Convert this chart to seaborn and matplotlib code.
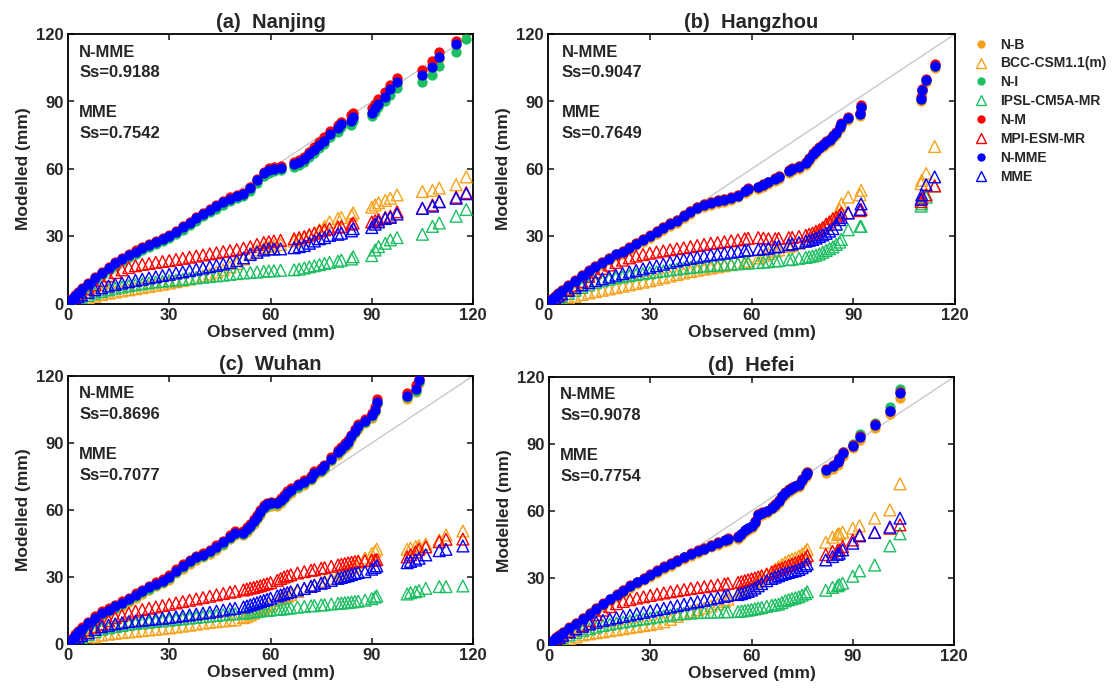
import matplotlib
matplotlib.use("Agg")
import matplotlib.pyplot as plt
from matplotlib.lines import Line2D
import seaborn as sns

# ---------------- (a) Nanjing ----------------
a_obs = [0.3, 1, 2, 3, 4, 6, 8, 10, 12, 14, 16, 18, 20, 22, 24, 26, 28, 30, 32, 34, 36, 38, 40, 42, 44, 46, 48, 50,
         52, 54, 56, 58, 59.5, 61, 63, 67, 68.5, 70, 71.5, 73, 74.5, 76, 77.5, 80, 81, 84, 84.5, 90, 91, 92, 94, 95.5,
         97.5, 105, 108, 110, 115, 118]
a_nb = [0.4, 1.5, 3.1, 4.6, 6.0, 8.5, 11, 13.3, 15.5, 17.5, 19.5, 21.3, 22.8, 24.3, 25.7, 27, 28.3, 29.7, 31.5, 33.5,
        35.5, 37.5, 39.5, 41.3, 43, 44.7, 46.3, 47.5, 48.3, 51, 54.5, 57.5, 59, 59.5, 60, 61.5, 62.5, 64, 66, 68, 70, 72,
        75, 77.5, 79.5, 81, 82.5, 84.5, 86.5, 88.5, 91.5, 95, 98, 101.5, 105, 109, 115, 121]
a_ni = [0.3, 1.4, 3.0, 4.4, 5.8, 8.2, 10.6, 12.8, 15, 17, 19, 20.8, 22.3, 23.8, 25.2, 26.5, 27.8, 29.2, 31, 32.9, 34.9,
        36.9, 38.9, 40.7, 42.4, 44.1, 45.7, 47, 47.8, 50.4, 53.8, 56.8, 58.3, 59, 59.5, 60.8, 61.8, 63.2, 65.2, 67.2,
        69.2, 71.2, 74, 76.5, 78.5, 79.5, 81.5, 83.5, 85.5, 87.5, 90, 93, 96, 98.5, 102, 106, 112, 118]
a_nm = [0.6, 2.0, 3.8, 5.4, 6.9, 9.5, 12, 14.4, 16.6, 18.6, 20.6, 22.4, 23.9, 25.4, 26.8, 28.1, 29.4, 30.8, 32.6, 34.6,
        36.6, 38.6, 40.6, 42.4, 44.1, 45.8, 47.4, 48.6, 49.4, 52.2, 55.7, 58.7, 60.3, 60.8, 61.3, 63, 64, 65.5, 67.5,
        69.8, 72, 74, 77, 79.5, 81, 84, 85, 87, 89, 91, 94, 97.5, 100.5, 104, 108, 112, 117, 125]
a_nmme = [0.5, 1.8, 3.5, 5, 6.5, 9, 11.5, 13.8, 16, 18, 20, 21.8, 23.3, 24.8, 26.2, 27.5, 28.8, 30.2, 32, 34, 36, 38, 40,
          41.8, 43.5, 45.2, 46.8, 48, 48.8, 51.5, 55, 58, 59.5, 60, 60.5, 62, 63, 64.5, 66.5, 68.5, 70.5, 72.5, 75.5,
          78, 80, 81.5, 83, 85, 87, 89, 92, 95.5, 98.5, 102, 105.5, 110, 115.5, 124]
a_bcc = [0.2, 0.5, 1, 1.5, 2, 2.8, 3.5, 4.2, 4.8, 5.3, 5.8, 6.3, 6.8, 7.3, 7.8, 8.3, 8.8, 9.3, 9.9, 10.5, 11.1, 11.8,
         12.5, 13.3, 14.2, 15.2, 16.5, 18, 20, 22.5, 24, 25, 25.5, 26, 26.5, 28, 28.5, 29.5, 30.5, 31.5, 33, 34.5, 36.5,
         38, 38.5, 39.5, 40.5, 43, 44, 45, 46, 47, 48.5, 50, 50.5, 51.5, 53, 56.5]
a_ipsl = [0.3, 0.8, 1.5, 2.2, 2.8, 3.8, 4.8, 5.6, 6.3, 7, 7.6, 8.1, 8.6, 9, 9.4, 9.8, 10.1, 10.4, 10.7, 11, 11.3, 11.6,
          11.9, 12.2, 12.5, 12.8, 13.2, 13.5, 13.8, 14, 14.2, 14.5, 14.7, 14.8, 15, 15.2, 15.5, 16, 16.5, 17, 17.5, 18,
          18.5, 19, 19.5, 20, 21, 21.5, 24, 25.5, 27, 28.5, 29.5, 31, 34.5, 36, 39, 42]
a_mpi = [0.5, 1.5, 2.8, 4, 5, 6.8, 8.5, 10.5, 12.5, 14, 15.2, 16.2, 17, 17.6, 18, 18.5, 18.9, 19.3, 19.8, 20.3, 20.8,
         21.3, 21.8, 22.3, 22.8, 23.3, 23.7, 24.2, 24.8, 25.5, 26.5, 27.3, 27.7, 28, 28.3, 29, 29.5, 30, 30.8, 31.5,
         32.5, 33, 33.5, 34.2, 34.5, 35.5, 36, 36.5, 37, 37.5, 38.5, 39, 41, 42.5, 44, 45.5, 47.5, 49.5]
a_mme = [0.5, 1.5, 2.5, 3.3, 4, 5.2, 6.3, 7.2, 8, 8.7, 9.3, 9.9, 10.5, 11, 11.6, 12.1, 12.7, 13.2, 13.8, 14.3, 14.9,
         15.5, 16, 16.6, 17.2, 17.8, 18.5, 19.3, 20.5, 22, 23, 24, 24.5, 24.5, 24.5, 25, 25.5, 26, 27, 28, 29, 29.5,
         30.5, 31, 31.5, 32.5, 33.5, 34, 35.5, 36.5, 38, 38.5, 40, 42.5, 43.5, 45.5, 47, 49]

# ---------------- (b) Hangzhou ----------------
b_obs = [0.3, 1, 2, 3, 4, 6, 8, 10, 12, 14, 16, 18, 20, 22, 24, 26, 28, 30, 32, 34, 36, 38, 40, 42, 44, 46, 48, 50,
         52, 54, 56, 58, 59, 62, 63.5, 65, 67, 68, 71, 72, 74, 76, 77, 78, 79, 80, 81, 82, 83, 84, 85, 86, 86.5, 88.5,
         92, 92.3, 110, 110.2, 111.5, 114]
b_nb = [0.3, 1.2, 2.6, 3.8, 5, 7.2, 9.4, 11.7, 13.7, 15.7, 17.5, 19.4, 21.2, 22.4, 24, 26, 27.7, 29.4, 31.2, 33, 34.7,
        36.2, 38.2, 40.2, 42, 43.2, 44.2, 45, 45.5, 46.2, 47.4, 49.2, 50.2, 51, 52.2, 53.2, 54.7, 55.7, 58.2, 59.2,
        60.2, 61.7, 63.7, 65.7, 67.2, 68.7, 69.7, 71.2, 72.2, 73.7, 75.2, 77.7, 79.2, 81.7, 83.5, 86.5, 90, 94, 98.5,
        105]
b_ni = [0.6, 2.0, 3.5, 4.8, 6.0, 8.2, 10.4, 12.7, 14.7, 16.7, 18.5, 20.4, 22.2, 23.4, 25, 27, 28.7, 30.4, 32.3, 34.1,
        35.8, 37.4, 39.4, 41.4, 43.3, 44.5, 45.5, 46.2, 46.6, 47.2, 48.4, 50.2, 51.2, 52, 53.2, 54.2, 55.7, 56.7, 59.2,
        60.2, 61.2, 62.7, 64.7, 66.7, 68.2, 69.7, 70.7, 72.2, 73.2, 74.7, 76.2, 78.7, 80.2, 82.7, 84.5, 87.5, 91, 95,
        99.5, 106]
b_nm = [0.6, 2.1, 3.7, 5, 6.2, 8.4, 10.6, 12.9, 14.9, 16.9, 18.7, 20.6, 22.4, 23.6, 25.2, 27.2, 28.9, 30.6, 32.4, 34.2,
        35.9, 37.4, 39.4, 41.4, 43.2, 44.4, 45.4, 46.2, 46.7, 47.4, 48.6, 50.4, 51.4, 52.2, 53.4, 54.4, 55.9, 56.9,
        59.4, 60.4, 61.4, 62.9, 64.9, 66.9, 68.4, 69.9, 70.9, 72.4, 73.4, 74.9, 76.4, 78.9, 80.4, 82.9, 85, 88.5, 92,
        95.5, 100, 106.5]
b_nmme = [0.5, 1.8, 3.3, 4.6, 5.8, 8, 10.2, 12.5, 14.5, 16.5, 18.3, 20.2, 22, 23.2, 24.8, 26.8, 28.5, 30.2, 32, 33.8,
          35.5, 37, 39, 41, 42.8, 44, 45, 45.8, 46.3, 47, 48.2, 50, 51, 51.8, 53, 54, 55.5, 56.5, 59, 60, 61, 62.5,
          64.5, 66.5, 68, 69.5, 70.5, 72, 73, 74.5, 76, 78.5, 80, 82.5, 84.5, 87.5, 91, 95, 99.5, 106]
b_bcc = [0.1, 0.4, 0.9, 1.3, 1.8, 2.6, 3.4, 4.2, 4.9, 5.5, 6.1, 6.7, 7.3, 7.9, 8.5, 9.1, 9.7, 10.3, 11, 11.7, 12.4,
         13.1, 13.8, 14.4, 15, 15.5, 16, 16.5, 17, 17.5, 18, 18.6, 19, 20.5, 21.5, 22.5, 23.5, 24, 25.5, 26, 27, 28, 29,
         30, 31, 32, 33.5, 35, 36.5, 38, 39.5, 42, 44.5, 47.5, 48.5, 50.5, 53.5, 55, 58, 70]
b_ipsl = [0.3, 0.9, 1.7, 2.5, 3.3, 4.7, 6.1, 7.4, 8.5, 9.5, 10.3, 11, 11.6, 12.1, 12.6, 13.1, 13.5, 13.9, 14.3, 14.7,
          15.1, 15.5, 15.9, 16.2, 16.5, 16.8, 17.1, 17.3, 17.5, 17.7, 17.9, 18.1, 18.2, 18.4, 18.6, 18.8, 19.1, 19.3,
          19.7, 19.9, 20.3, 20.7, 21, 21.3, 21.7, 22.2, 23, 23.8, 24.6, 25.4, 26.5, 27.5, 28.7, 33, 34.5, 34.5, 43.5,
          44.5, 47.5, 52.5]
b_mpi = [0.5, 1.5, 2.8, 3.8, 4.8, 6.5, 8.2, 10, 12.3, 14.2, 15.8, 17.3, 18.5, 19.5, 20.5, 21.3, 22, 22.6, 23.1, 23.6,
         24.1, 24.6, 25, 25.5, 26, 26.5, 27, 27.3, 27.7, 28.1, 28.5, 29, 29.2, 29.5, 29.3, 29, 29, 29.2, 29.5, 29.6, 30,
         30.5, 31, 31.5, 32.3, 33, 34, 35.5, 36.5, 37.8, 38.5, 39.5, 40.5, 40.5, 41.5, 42, 45.5, 47, 48.5, 52.5]
b_mme = [0.5, 1.5, 2.6, 3.6, 4.5, 6, 7.3, 8.5, 9.5, 10.4, 11.2, 12, 12.8, 13.5, 14.2, 14.9, 15.6, 16.3, 17, 17.7, 18.5,
         19.2, 19.8, 20.3, 20.8, 21.3, 21.8, 22.2, 22.6, 23, 23.4, 23.8, 24, 24.3, 24.5, 24.8, 25.3, 25.6, 26.4, 26.7,
         27.3, 27.9, 28.3, 28.7, 29.3, 30, 30.7, 31.4, 32.4, 33.5, 35.5, 37.5, 38.5, 40.5, 42, 44.5, 46.5, 48.5, 53,
         56.5]

# ---------------- (c) Wuhan ----------------
c_obs = [0.3, 1, 2, 3, 4, 6, 8, 10, 12, 14, 16, 18, 20, 22, 24, 26, 28, 30, 32, 34, 36, 38, 40, 42, 44, 46, 48, 49.5,
         52, 53, 54, 55, 56, 57, 58, 59, 60, 62, 63, 64, 65, 66, 68, 70, 72, 73, 75, 76, 78, 80, 81, 82, 83, 84, 85, 86,
         88, 90, 91, 91.5, 100.5, 103, 104]
c_obs_t = [0.3, 1, 2, 3, 4, 6, 8, 10, 12, 14, 16, 18, 20, 22, 24, 26, 28, 30, 32, 34, 36, 38, 40, 42, 44, 46, 48, 49.5,
           52, 53, 54, 55, 56, 57, 58, 59, 60, 62, 63, 64, 65, 66, 68, 70, 72, 73, 75, 76, 78, 80, 81, 82, 83, 84, 85,
           86, 88, 90, 91, 91.5, 100.5, 101.5, 103, 104, 106, 110, 112, 117]
c_nb = [0.3, 1.2, 2.8, 4.2, 5.6, 8.1, 10.6, 12.8, 14.2, 15.6, 17.2, 18.8, 20.8, 22.4, 24.1, 25.8, 27.2, 28.8, 31.6,
        33.8, 35.8, 37.6, 38.8, 40.3, 42.3, 44.3, 46.8, 48.6, 48.6, 50.3, 51.8, 53.8, 55.8, 57.8, 60.3, 61.3, 61.8,
        61.8, 63.3, 64.8, 66.3, 67.8, 69.8, 71.3, 73.3, 75.3, 76.8, 78.3, 81.8, 84.8, 86.3, 87.8, 89.3, 91.8, 94.3,
        96.3, 98.8, 101.3, 103.8, 107.3, 109.8, 112.8, 116.8]
c_ni = [0.4, 1.6, 3.3, 4.8, 6.3, 8.8, 11.3, 13.5, 14.9, 16.3, 17.9, 19.5, 21.5, 23.1, 24.8, 26.5, 27.9, 29.5, 32.3,
        34.5, 36.5, 38.3, 39.5, 41, 43, 45, 47.5, 49.3, 49.3, 51, 52.5, 54.5, 56.5, 58.5, 61, 62, 62.5, 62.5, 64, 65.5,
        67, 68.5, 70.5, 72, 74, 76, 77.5, 79, 82.5, 85.5, 87, 88.5, 90, 92.5, 95, 97, 99.5, 102, 104.5, 108, 110.5,
        113.5, 117.5]
c_nm = [0.8, 2.4, 4.3, 5.9, 7.4, 10, 12.5, 14.8, 16.2, 17.6, 19.2, 20.8, 22.8, 24.4, 26.1, 27.8, 29.2, 30.8, 33.6,
        35.8, 37.8, 39.6, 40.8, 42.3, 44.3, 46.3, 48.8, 50.6, 50.6, 52.3, 53.8, 55.8, 57.8, 59.8, 62.3, 63.3, 63.8,
        63.8, 65.3, 66.8, 68.3, 69.8, 71.8, 73.3, 75.3, 77.3, 78.8, 80.3, 83.8, 86.8, 88.3, 89.8, 91.3, 93.8, 96.3,
        98.3, 100.8, 103.3, 106, 109.5, 112.5, 116, 118.5]
c_nmme = [0.6, 2, 3.8, 5.3, 6.8, 9.3, 11.8, 14, 15.4, 16.8, 18.4, 20, 22, 23.6, 25.3, 27, 28.4, 30, 32.8, 35, 37, 38.8,
          40, 41.5, 43.5, 45.5, 48, 49.8, 49.8, 51.5, 53, 55, 57, 59, 61.5, 62.5, 63, 63, 64.5, 66, 67.5, 69, 71, 72.5,
          74.5, 76.5, 78, 79.5, 83, 86, 87.5, 89, 90.5, 93, 95.5, 97.5, 100, 102.5, 105, 108.5, 111, 114, 118]
c_bcc = [0.1, 0.4, 0.8, 1.2, 1.6, 2.3, 3.2, 4, 4.4, 4.8, 5.1, 5.4, 5.7, 6, 6.3, 6.6, 6.9, 7.2, 7.6, 8, 8.4, 8.9, 9.3,
         9.7, 10, 10.3, 10.6, 10.9, 11.8, 12.3, 13, 13.8, 14.5, 15.3, 16, 17, 17.8, 19.5, 20.3, 21, 21.5, 22.2, 23.5,
         24.8, 26, 26.5, 27.5, 28.2, 29.3, 30.5, 31.2, 32, 33, 34, 35, 36.5, 38.5, 40.5, 41.5, 42.5,
         42.4, 43, 43.6, 44, 44.8, 46.6, 48.8, 50.6]
c_ipsl = [0.3, 0.9, 1.6, 2.3, 3, 4.2, 5.5, 6.6, 7.2, 7.8, 8.3, 8.8, 9.2, 9.5, 9.8, 10.1, 10.4, 10.7, 11, 11.3, 11.6,
          11.9, 12.2, 12.5, 12.8, 13.1, 13.4, 13.6, 13.8, 14, 14.2, 14.4, 14.6, 14.8, 15, 15.1, 15.2, 15.5, 15.6, 15.8,
          16, 16.2, 16.5, 16.8, 17.1, 17.2, 17.5, 17.6, 17.9, 18.2, 18.3, 18.5, 18.6, 18.8, 19, 19.2, 19.6, 20.3, 21,
          21.5, 22.4, 23, 23.4, 23.9, 24.9, 25.7, 25.7, 26]
c_mpi = [0.5, 1.5, 2.8, 3.8, 4.8, 6.2, 7.5, 9, 10.5, 11.8, 12.8, 13.8, 14.7, 15.4, 16, 16.6, 17.2, 17.8, 18.4, 19, 19.6,
         20.2, 20.8, 21.4, 22, 22.6, 23.2, 23.6, 24.2, 24.6, 25, 25.3, 25.7, 26.1, 26.6, 27, 27.5, 28.5, 29.3, 30, 30.5,
         31, 31.8, 32.4, 33, 33.3, 33.9, 34.2, 34.8, 35.4, 35.7, 36, 36.3, 36.6, 36.9, 37.1, 37.3, 37.5, 37.6, 37.8,
         39, 40, 41.3, 42.5, 43.5, 45.8, 46.9, 47]
c_mme = [0.4, 1.2, 2.2, 3, 3.8, 5, 6.5, 7.8, 8.4, 9, 9.5, 10, 10.3, 10.6, 10.9, 11.2, 11.5, 11.8, 12.2, 12.6, 13, 13.4,
         13.8, 14.2, 14.7, 15.2, 15.7, 16, 16.6, 17, 17.5, 18, 18.5, 19, 19.5, 20, 20.5, 21.5, 22, 22.5, 23, 23.4, 24.2,
         24.9, 25.8, 26.3, 27.2, 27.6, 28.5, 29.4, 29.8, 30.2, 30.6, 31.1, 31.6, 32, 32.4, 33.5, 34.3, 35,
         36.4, 37, 37.6, 38.4, 39.9, 41.8, 42.4, 43.9]

# ---------------- (d) Hefei ----------------
d_obs = [0.3, 1, 2, 3, 4, 6, 8, 10, 12, 14, 16, 18, 20, 22, 24, 26, 28, 30, 32, 34, 36, 38, 40, 42, 44, 46, 48, 50, 52,
         53, 56, 57, 58, 59, 60, 61, 62, 63, 64.5, 66, 67, 68, 69, 70, 71, 72, 73, 74, 75, 76, 76.5, 82, 84, 85.5, 86,
         87, 90, 92, 96.5, 101, 104]
d_nb = [0.3, 1.1, 2.4, 3.6, 4.7, 6.8, 8.8, 11, 13.2, 15.4, 17.5, 19.6, 21.6, 23.5, 25.5, 27.2, 28.9, 30.5, 32.2, 34,
        35.5, 37, 38.4, 39.8, 41.2, 42.4, 43.7, 44.9, 46, 46.6, 47.5, 48.7, 50.5, 51.4, 52.3, 54.2, 57.5, 58.2, 59,
        60.7, 62, 63.7, 65.7, 67.2, 68.7, 69.5, 70.2, 70.9, 73.2, 75.4, 76.2, 76.8, 78.8, 80.8, 82.3, 84.8, 88.2, 92,
        97, 103.5, 110.5]
d_ni = [0.5, 1.7, 3.1, 4.4, 5.6, 7.7, 9.8, 12, 14.2, 16.4, 18.5, 20.6, 22.6, 24.5, 26.5, 28.2, 29.9, 31.5, 33.2, 35,
        36.5, 38, 39.4, 40.8, 42.2, 43.4, 44.7, 45.9, 47, 47.6, 48.5, 49.7, 51.5, 52.4, 53.3, 55.2, 58.5, 59.2, 60,
        61.7, 63, 64.7, 66.7, 68.2, 69.7, 70.5, 71.3, 72, 74.5, 76.8, 77.5, 78.5, 80.3, 82.3, 83.6, 86.4, 89.8, 94.5,
        99.5, 106.5, 114.5]
d_nm = [0.6, 2, 3.4, 4.6, 5.8, 7.9, 10, 12.2, 14.4, 16.6, 18.7, 20.8, 22.8, 24.7, 26.7, 28.4, 30.1, 31.7, 33.4, 35.2,
        36.7, 38.2, 39.6, 41, 42.4, 43.6, 44.9, 46.1, 47.2, 47.8, 48.7, 49.9, 51.7, 52.6, 53.5, 55.4, 58.7, 59.4, 60.2,
        61.9, 63.2, 64.9, 66.9, 68.4, 69.9, 70.7, 71.4, 72.1, 74.4, 76.6, 77.4, 78.6, 80.4, 82.4, 83.7, 86.4, 89.6,
        93.4, 99, 105, 113.3]
d_nmme = [0.5, 1.6, 3, 4.2, 5.4, 7.5, 9.6, 11.8, 14, 16.2, 18.3, 20.4, 22.4, 24.3, 26.3, 28, 29.7, 31.3, 33, 34.8,
          36.3, 37.8, 39.2, 40.6, 42, 43.2, 44.5, 45.7, 46.8, 47.4, 48.3, 49.5, 51.3, 52.2, 53.1, 55, 58.3, 59, 59.8,
          61.5, 62.8, 64.5, 66.5, 68, 69.5, 70.3, 71, 71.7, 74, 76.2, 77, 78.2, 80, 82, 83.3, 86, 89.2, 93, 98.7, 105,
          113]
d_bcc = [0.1, 0.5, 1, 1.5, 2, 2.8, 3.6, 4.5, 5, 5.5, 5.9, 6.4, 6.8, 7.3, 7.8, 8.2, 8.7, 9.1, 9.7, 10.4, 11.5, 12.8, 14,
         15, 15.8, 16.6, 17.5, 18.5, 19.6, 20.5, 23, 24, 24.5, 25.3, 26.5, 27.5, 28.5, 29.5, 31.5, 32.9, 34, 35, 36, 37,
         37.8, 38.5, 39, 39.8, 40.8, 42, 42.8, 46, 48.3, 49.5, 49.8, 50.5, 52.3, 53.4, 56.8, 60.5, 72.2]
d_ipsl = [0.3, 0.9, 1.7, 2.5, 3.2, 4.5, 5.6, 6.5, 7.3, 8, 8.7, 9.3, 9.8, 10.3, 10.8, 11.3, 11.7, 12.1, 12.6, 13, 13.4,
          13.8, 14.1, 14.3, 14.5, 14.6, 14.7, 14.8, 14.9, 14.9, 15, 15.2, 15.4, 15.6, 15.9, 16.2, 16.5, 16.8, 17.3,
          17.8, 18, 18.3, 19, 19.8, 20.3, 20.7, 21.1, 21.6, 22.3, 23, 23.8, 24.5, 25.8, 26.5, 27, 27.7, 30.8, 33.2,
          35.8, 44.4, 49.8]
d_mpi = [0.5, 1.5, 2.8, 3.8, 4.8, 6.2, 7.4, 8.8, 11, 13.6, 15.6, 17.2, 18.5, 19.5, 20.3, 21, 21.6, 22.2, 22.8, 23.3,
         23.8, 24.3, 24.8, 25.3, 25.7, 26.1, 26.5, 26.9, 27.3, 27.6, 28, 28.4, 28.8, 29.2, 29.6, 30, 30.5, 31, 31.8,
         32.6, 33.2, 33.8, 34.4, 35, 35.6, 36.2, 36.8, 37.4, 38.2, 39, 40, 40.5, 41.9, 42.3, 42.6, 44.1, 47, 49.3,
         50.4, 52.3, 53.8]
d_mme = [0.5, 1.4, 2.5, 3.4, 4.3, 5.8, 7.2, 8.4, 9.4, 10.2, 11, 11.6, 12.2, 12.8, 13.4, 14, 14.6, 15.2, 15.8, 16.4,
         17, 17.6, 18.2, 18.8, 19.4, 20, 20.6, 21.2, 21.8, 22.3, 22.6, 23, 23.5, 24, 24.6, 25.5, 26.5, 27.5, 28.8,
         29.8, 30.4, 31, 31.6, 32.1, 32.5, 32.9, 33.3, 33.8, 34.6, 35.5, 36.3, 38.1, 39.6, 40.6, 41.1, 42.6, 45.6,
         48.9, 50.4, 52.8, 56.8]

titles = ["(a)  Nanjing", "(b)  Hangzhou", "(c)  Wuhan", "(d)  Hefei"]
ss_nmme = ["0.9188", "0.9047", "0.8696", "0.9078"]
ss_mme = ["0.7542", "0.7649", "0.7077", "0.7754"]
labels = ["N-B", "BCC-CSM1.1(m)", "N-I", "IPSL-CM5A-MR", "N-M", "MPI-ESM-MR", "N-MME", "MME"]
ticks = [0, 30, 60, 90, 120]

# ---------------- style ----------------
sns.set_style("ticks")
plt.rcParams["font.family"] = ["Liberation Sans", "DejaVu Sans"]
plt.rcParams["font.weight"] = "bold"
plt.rcParams["axes.labelweight"] = "bold"
plt.rcParams["axes.titleweight"] = "bold"

C_OR = "#F7A21B"
C_GR = "#1DBF62"
C_RD = "#FF0000"
C_BL = "#0000FF"
colors = [C_OR, C_OR, C_GR, C_GR, C_RD, C_RD, C_BL, C_BL]
kinds = ["dot", "tri"] * 4

panels = [
    (a_obs, a_obs, [a_nb, a_bcc, a_ni, a_ipsl, a_nm, a_mpi, a_nmme, a_mme]),
    (b_obs, b_obs, [b_nb, b_bcc, b_ni, b_ipsl, b_nm, b_mpi, b_nmme, b_mme]),
    (c_obs, c_obs_t, [c_nb, c_bcc, c_ni, c_ipsl, c_nm, c_mpi, c_nmme, c_mme]),
    (d_obs, d_obs, [d_nb, d_bcc, d_ni, d_ipsl, d_nm, d_mpi, d_nmme, d_mme]),
]

W, H = 1117, 689
boxes = [(68, 34, 473, 304), (548, 34, 955, 304), (68, 376, 473, 644), (549, 377, 954, 645)]
text_x = [0.028, 0.034, 0.028, 0.028]

fig = plt.figure(figsize=(W / 100, H / 100), dpi=100)

for i, (obs_d, obs_t, series) in enumerate(panels):
    l, t, r, b = boxes[i]
    ax = fig.add_axes([l / W, 1 - b / H, (r - l) / W, (b - t) / H])
    sns.lineplot(x=[0, 120], y=[0, 120], ax=ax, color="#C8C8C8", lw=1.0, zorder=1)
    for k, (vals, kind, col) in enumerate(zip(series, kinds, colors)):
        xs = obs_d if kind == "dot" else obs_t
        assert len(xs) == len(vals), (i, k, len(xs), len(vals))
        if kind == "dot":
            sns.scatterplot(x=xs, y=vals, ax=ax, marker="o", s=55, color=col,
                            edgecolor=col, linewidth=0, zorder=2 + k)
        else:
            sns.scatterplot(x=xs, y=vals, ax=ax, marker="^", s=72, color=col,
                            facecolor="none", edgecolor=col, linewidth=1.0, zorder=2 + k)
    ax.set_xlim(0, 120)
    ax.set_ylim(0, 120)
    ax.set_xticks(ticks)
    ax.set_yticks(ticks)
    ax.tick_params(direction="in", length=4, width=1.2, top=True, right=True,
                   labelsize=12, pad=3)
    for sp in ax.spines.values():
        sp.set_linewidth(1.3)
        sp.set_color("black")
    ax.set_title(titles[i], fontsize=14.5, fontweight="bold", pad=4)
    ax.set_xlabel("Observed (mm)", fontsize=12.5, fontweight="bold", labelpad=1)
    ax.set_ylabel("Modelled (mm)", fontsize=12.5, fontweight="bold", labelpad=4)
    tx = text_x[i]
    ax.text(tx, 0.933, "N-MME", transform=ax.transAxes, fontsize=12, fontweight="bold", va="center")
    ax.text(tx, 0.858, "Ss=" + ss_nmme[i], transform=ax.transAxes, fontsize=12, fontweight="bold", va="center")
    ax.text(tx, 0.708, "MME", transform=ax.transAxes, fontsize=12, fontweight="bold", va="center")
    ax.text(tx, 0.630, "Ss=" + ss_mme[i], transform=ax.transAxes, fontsize=12, fontweight="bold", va="center")

handles = []
for lab, kind, col in zip(labels, kinds, colors):
    if kind == "dot":
        handles.append(Line2D([], [], ls="none", marker="o", markersize=6, color=col, markeredgewidth=0))
    else:
        handles.append(Line2D([], [], ls="none", marker="^", markersize=7, markerfacecolor="none",
                              markeredgecolor=col, markeredgewidth=1.0))
fig.legend(handles, labels, loc="upper left", bbox_to_anchor=(968 / W, 1 - 32 / H), frameon=False,
           prop={"weight": "bold", "size": 10}, handlelength=1.0, handletextpad=0.9, labelspacing=0.35,
           borderaxespad=0)

fig.savefig("out.png", dpi=100)
